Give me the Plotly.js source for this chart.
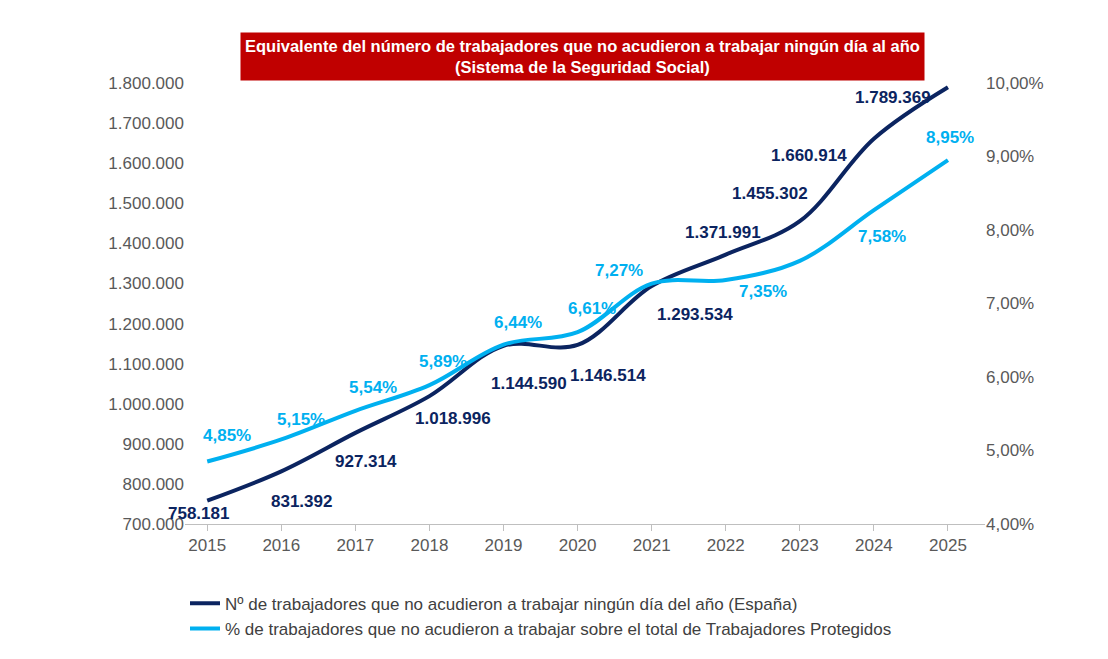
<!DOCTYPE html>
<html>
<head>
<meta charset="utf-8">
<script src="https://cdn.plot.ly/plotly-3.0.1.min.js"></script>
<style>body{margin:0;background:#fff}#chart{width:1108px;height:659px}</style>
</head>
<body>
<div id="chart"></div>
<script>
var years = [2015, 2016, 2017, 2018, 2019, 2020, 2021, 2022, 2023, 2024, 2025];
var workers = [758181, 831392, 927314, 1018996, 1144590, 1146514, 1293534, 1371991, 1455302, 1660914, 1789369];
var pct = [4.85, 5.15, 5.54, 5.89, 6.44, 6.61, 7.27, 7.32, 7.58, 8.27, 8.95];
var workerLabels = ['758.181', '831.392', '927.314', '1.018.996', '1.144.590', '1.146.514', '1.293.534', '1.371.991', '1.455.302', '1.660.914', '1.789.369'];
var pctLabels = ['4,85%', '5,15%', '5,54%', '5,89%', '6,44%', '6,61%', '7,27%', '7,35%', '7,58%', '', '8,95%'];

var dark = '#0b2460', light = '#00b0f0';

// label offsets in px, positive y = down (style only)
var wOff = [[-9,13],[20,30],[11,29],[24,22],[25,38],[30,31],[43,28],[-3,-22],[-30,-28],[-65,17],[-55,10]];
var pOff = [[20,-26],[20,-20],[18,-23],[14,-24],[14,-22],[14,-24],[-33,-13],[37,12],[82,-24],[0,0],[2,-23]];

var annotations = [];
years.forEach(function (y, i) {
    annotations.push({x: y, y: workers[i], xref: 'x', yref: 'y', text: '<b>' + workerLabels[i] + '</b>',
        showarrow: false, xshift: wOff[i][0], yshift: -wOff[i][1], font: {color: dark, size: 17}});
    if (pctLabels[i]) annotations.push({x: y, y: pct[i], xref: 'x', yref: 'y2', text: '<b>' + pctLabels[i] + '</b>',
        showarrow: false, xshift: pOff[i][0], yshift: -pOff[i][1], font: {color: light, size: 17}});
});
annotations.push({xref: 'paper', yref: 'paper', x: 0.497, y: 1.0, yanchor: 'bottom', xanchor: 'center',
    text: '<b>Equivalente del número de trabajadores que no acudieron a trabajar ningún día al año<br>(Sistema de la Seguridad Social)</b>',
    showarrow: false, bgcolor: '#c00000', font: {color: '#fff', size: 16.5}, borderpad: 4, yshift: 2});

var data = [
    {x: years, y: workers, type: 'scatter', mode: 'lines', line: {color: dark, width: 4, shape: 'spline'},
     name: 'Nº de trabajadores que no acudieron a trabajar ningún día del año (España)'},
    {x: years, y: pct, yaxis: 'y2', type: 'scatter', mode: 'lines', line: {color: light, width: 4, shape: 'spline'},
     name: '% de trabajadores que no acudieron a trabajar sobre el total de Trabajadores Protegidos'}
];

var layout = {
    width: 1108, height: 659,
    margin: {l: 185, r: 123, t: 83, b: 129},
    separators: ',.',
    font: {family: 'Liberation Sans, Arial', color: '#595959', size: 17},
    showlegend: true,
    legend: {x: 0.0, xanchor: 'left', y: -0.14, yanchor: 'top', font: {size: 17, color: '#404040'}, tracegroupgap: 10},
    xaxis: {range: [2014.7, 2025.5], tickvals: years, showgrid: false, zeroline: false,
        showline: true, linecolor: '#bfbfbf', ticks: 'outside', tickcolor: '#bfbfbf', ticklen: 6},
    yaxis: {range: [700000, 1800000], dtick: 100000, tickformat: ',d', showgrid: false, zeroline: false, ticks: ''},
    yaxis2: {range: [4, 10], dtick: 1, overlaying: 'y', side: 'right', tickformat: '.2f', ticksuffix: '%',
        showgrid: false, zeroline: false},
    annotations: annotations
};
Plotly.newPlot('chart', data, layout, {displayModeBar: false});
</script>
</body>
</html>
